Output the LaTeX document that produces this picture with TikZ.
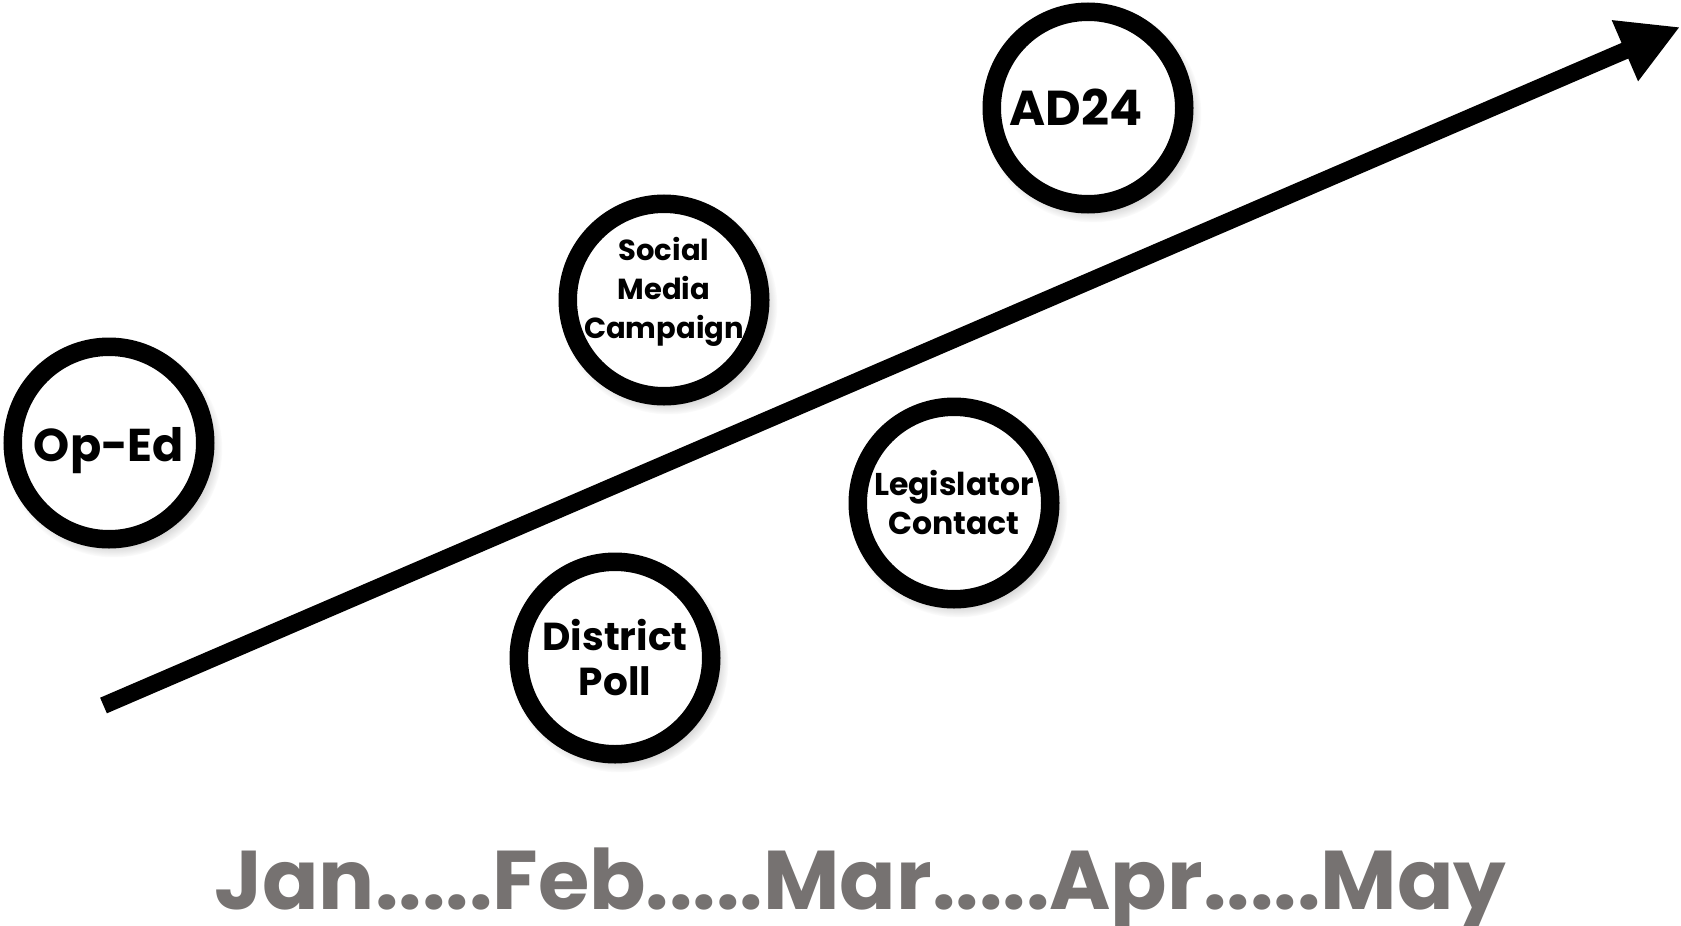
\documentclass[tikz,border=0pt]{standalone}
\usepackage{fontspec}
\setmainfont{Poppins}
\usetikzlibrary{arrows.meta,shadows}
\definecolor{monthgray}{RGB}{118,114,113}
\tikzset{
  event/.style={circle, draw=black, fill=white, line width=18.5pt, minimum size=192.5pt,
    inner sep=0pt,
    circular drop shadow={shadow xshift=4pt, shadow yshift=-5pt, shadow scale=1.13, opacity=0.45}},
  eventtext/.style={align=center, text=black, inner sep=0pt},
  timeline/.style={line width=17pt, -{Triangle[length=60pt,width=62pt]}},
  months/.style={anchor=base west, inner sep=0pt, text=monthgray,
    font={\fontsize{83.3pt}{90pt}\selectfont\bfseries}}
}
\begin{document}
\begin{tikzpicture}[x=1pt,y=-1pt]
\useasboundingbox[fill=white] (0,0) rectangle (1681,926);
\coordinate (start) at (103.5,705.5);
\coordinate (tip) at (1680,27);
\draw[timeline] (start) -- (tip);
\node[event] (oped) at (109,443) {};
\node[event] (social) at (664,300) {};
\node[event] (ad) at (1088,108) {};
\node[event] (leg) at (954,503) {};
\node[event] (poll) at (615,658) {};
\node[eventtext, anchor=base, font={\fontsize{46pt}{52pt}\selectfont\bfseries}] (opedtxt) at ([yshift=-18pt]oped.center) {Op-Ed};
\node[eventtext, anchor=base, font={\fontsize{29pt}{39pt}\selectfont\bfseries}] (socialtxt) at ([yshift=-38pt]social.center) {Social\\Media\\Campaign};
\node[eventtext, anchor=base, font={\fontsize{49pt}{52pt}\selectfont\bfseries}] (adtxt) at ([xshift=-12pt,yshift=-17pt]ad.center) {AD24};
\node[eventtext, font={\fontsize{31.5pt}{39pt}\selectfont\bfseries}] (legtxt) at (leg.center) {Legislator\\Contact};
\node[eventtext, font={\fontsize{39pt}{45pt}\selectfont\bfseries}] (polltxt) at (poll.center) {District\\Poll};
\node[months] (mo) at (214,909) {Jan.....Feb.....Mar.....Apr.....May};
\end{tikzpicture}
\end{document}
